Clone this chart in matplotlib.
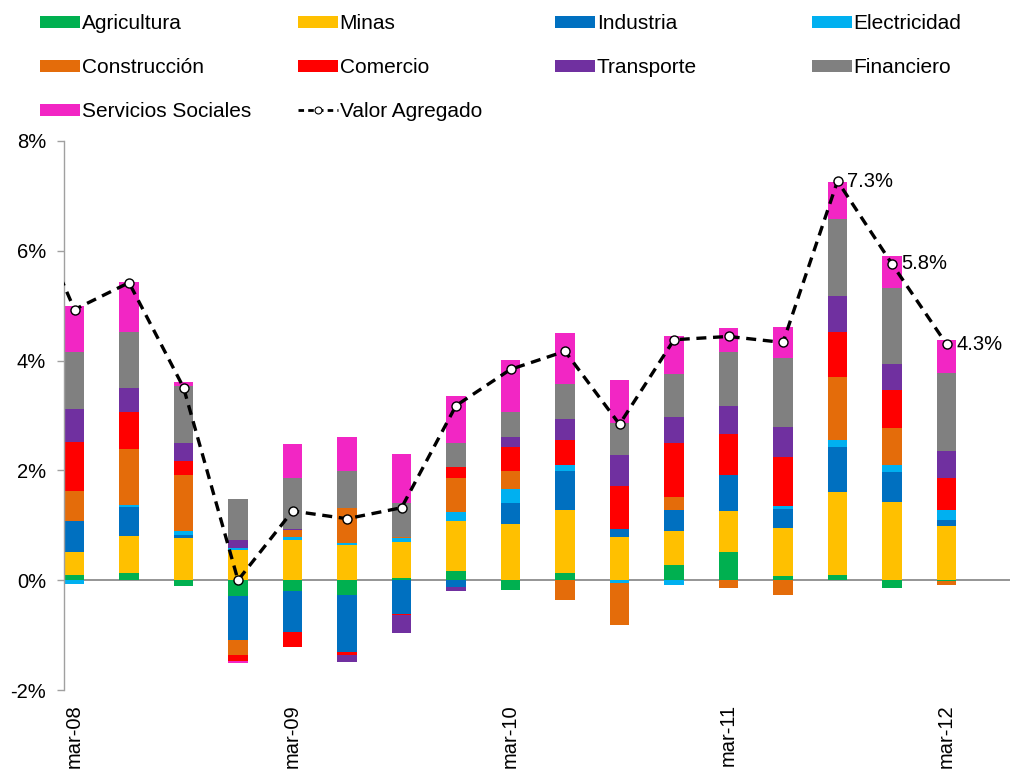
import numpy as np
import matplotlib.pyplot as plt
from matplotlib.patches import Patch
from matplotlib.lines import Line2D

plt.rcParams['font.family'] = ['Liberation Sans', 'DejaVu Sans']

# quarterly contributions to value-added growth (percentage points)
quarters = ["mar-08", "jun-08", "sep-08", "dic-08", "mar-09", "jun-09", "sep-09", "dic-09",
            "mar-10", "jun-10", "sep-10", "dic-10", "mar-11", "jun-11", "sep-11", "dic-11", "mar-12"]

agricultura = [0.10, 0.14, -0.11, -0.29, -0.19, -0.27, 0.04, 0.16, -0.17, 0.14, 0.00, 0.27, 0.52, 0.08, 0.10, -0.15, -0.02]
minas = [0.42, 0.66, 0.76, 0.55, 0.74, 0.64, 0.65, 0.92, 1.02, 1.13, 0.78, 0.62, 0.74, 0.87, 1.50, 1.42, 0.99]
industria = [0.55, 0.53, 0.07, -0.80, -0.75, -1.03, -0.61, -0.13, 0.39, 0.71, 0.16, 0.39, 0.65, 0.34, 0.82, 0.55, 0.10]
electricidad = [-0.07, 0.04, 0.06, 0.04, 0.04, 0.03, 0.08, 0.16, 0.25, 0.11, -0.06, -0.09, 0.00, 0.07, 0.13, 0.12, 0.18]
construccion = [0.56, 1.02, 1.03, -0.27, 0.13, 0.64, 0.01, 0.63, 0.33, -0.36, -0.75, 0.23, -0.14, -0.27, 1.16, 0.68, -0.06]
comercio = [0.89, 0.68, 0.25, -0.11, -0.27, -0.06, -0.03, 0.19, 0.43, 0.47, 0.78, 0.99, 0.76, 0.88, 0.81, 0.70, 0.59]
transporte = [0.59, 0.43, 0.33, 0.14, 0.03, -0.13, -0.33, -0.06, 0.18, 0.38, 0.56, 0.48, 0.50, 0.55, 0.65, 0.47, 0.49]
financiero = [1.04, 1.02, 1.03, 0.75, 0.93, 0.67, 0.62, 0.43, 0.47, 0.64, 0.59, 0.78, 0.98, 1.26, 1.41, 1.38, 1.42]
servicios = [0.85, 0.92, 0.08, -0.04, 0.61, 0.62, 0.90, 0.87, 0.95, 0.93, 0.78, 0.69, 0.44, 0.57, 0.67, 0.58, 0.60]

# total value added growth (%), first value is dic-07 (line enters from the left)
valor_agregado = [7.20, 4.93, 5.42, 3.51, 0.00, 1.26, 1.12, 1.32, 3.18, 3.84, 4.17, 2.84, 4.38, 4.44, 4.33, 7.27, 5.76, 4.30]
labelled = ["sep-11", "dic-11", "mar-12"]

sectors = [
    ("Agricultura", agricultura, "#00B050"),
    ("Minas", minas, "#FFC000"),
    ("Industria", industria, "#0070C0"),
    ("Electricidad", electricidad, "#00B0F0"),
    ("Construcción", construccion, "#E46C0A"),
    ("Comercio", comercio, "#FF0000"),
    ("Transporte", transporte, "#7030A0"),
    ("Financiero", financiero, "#808080"),
    ("Servicios Sociales", servicios, "#F226C4"),
]

fig = plt.figure(figsize=(10.13, 7.71), dpi=100)
ax = fig.add_axes([64 / 1013, 81 / 771, 946 / 1013, 549 / 771])

x = np.arange(len(quarters))
pos_base = np.zeros(len(quarters))
neg_base = np.zeros(len(quarters))
for name, vals, color in sectors:
    v = np.array(vals)
    pos = np.where(v > 0, v, 0)
    neg = np.where(v < 0, v, 0)
    ax.bar(x, pos, 0.35, bottom=pos_base, color=color, linewidth=0, zorder=2)
    ax.bar(x, neg, 0.35, bottom=neg_base, color=color, linewidth=0, zorder=2)
    pos_base += pos
    neg_base += neg

ax.axhline(0, color="#8C8C8C", linewidth=1.3, zorder=1)

line_x = np.arange(len(valor_agregado)) - 1
ax.plot(line_x, valor_agregado, color="black", linestyle=(0, (3, 2)), linewidth=2.4,
        marker="o", markersize=6.5, markerfacecolor="white", markeredgecolor="black",
        markeredgewidth=1.0, zorder=3)

for q in labelled:
    i = quarters.index(q)
    v = valor_agregado[i + 1]
    ax.annotate(f"{v:.1f}%", (i, v), xytext=(7, 0), textcoords="offset points",
                va="center", ha="left", fontsize=14.5)

ax.set_xlim(-0.193, 17.165)
ax.set_ylim(-2, 8)
ax.set_yticks(np.arange(-2, 9, 2))
ax.set_yticklabels([f"{t}%" for t in range(-2, 9, 2)])
ax.set_xticks(x[::4])
ax.set_xticklabels(quarters[::4], rotation=90, va="top", ha="center")
ax.tick_params(axis="y", length=5, width=1, color="#A0A0A0", pad=8, labelsize=14.5)
ax.tick_params(axis="x", length=0, pad=10, labelsize=14.5)
for s in ["top", "right", "bottom"]:
    ax.spines[s].set_visible(False)
ax.spines["left"].set_color("#A0A0A0")
ax.spines["left"].set_linewidth(1)

# legend laid out as a 4 x 3 grid, row by row
handles = [Patch(facecolor=c, edgecolor="none", label=n) for n, _, c in sectors]
handles.append(Line2D([], [], color="black", linestyle=(0, (2, 1.5)), linewidth=2,
                      marker="o", markersize=5, markerfacecolor="white",
                      markeredgecolor="black", markeredgewidth=0.8, label="Valor Agregado"))
col_left = [40, 298, 555, 812]
for c in range(4):
    col_handles = handles[c::4]
    fig.legend(handles=col_handles, loc="upper left",
               bbox_to_anchor=(col_left[c] / 1013, 1 - 14 / 771),
               frameon=False, fontsize=15, borderpad=0, borderaxespad=0,
               handlelength=1.9, handleheight=0.5, handletextpad=0.1,
               labelspacing=1.2)

fig.savefig("out.png", dpi=100)
